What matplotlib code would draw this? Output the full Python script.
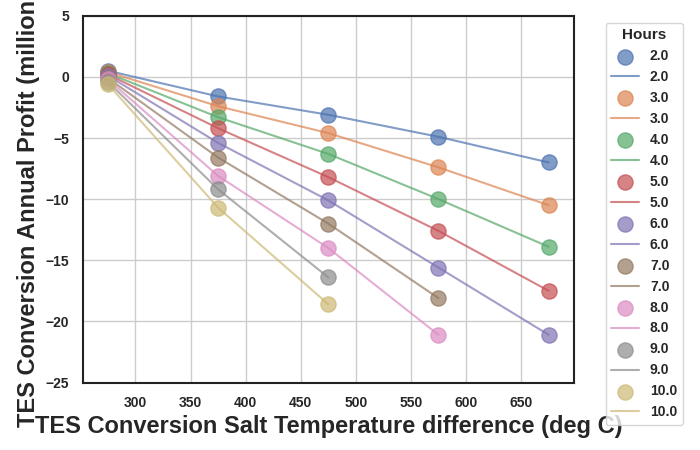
import matplotlib
matplotlib.use("Agg")
import matplotlib.pyplot as plt
import seaborn as sns

sns.set_theme(style="whitegrid")
plt.rcParams['font.family'] = ['Liberation Sans', 'DejaVu Sans']

temps = [275, 375, 475, 575, 675]
hours = [2.0, 3.0, 4.0, 5.0, 6.0, 7.0, 8.0, 9.0, 10.0]
profits = {
    2.0: [0.5, -1.6, -3.1, -4.9, -7.0],
    3.0: [0.4, -2.4, -4.6, -7.4, -10.5],
    4.0: [0.3, -3.3, -6.3, -10.0, -13.9],
    5.0: [0.2, -4.2, -8.2, -12.6, -17.5],
    6.0: [0.1, -5.4, -10.1, -15.6, -21.1],
    7.0: [-0.1, -6.6, -12.0, -18.1],
    8.0: [-0.2, -8.1, -14.0, -21.1],
    9.0: [-0.4, -9.2, -16.4],
    10.0: [-0.6, -10.7, -18.6],
}

colors = sns.color_palette("deep", 10)
fig, ax = plt.subplots(figsize=(7, 4.5), dpi=100)
for i, h in enumerate(hours):
    y = profits[h]
    x = temps[:len(y)]
    ax.scatter(x, y, s=120, color=colors[i], edgecolor=colors[i], alpha=0.7, label=str(h), zorder=3)
    ax.plot(x, y, color=colors[i], alpha=0.7, label=str(h))

ax.set_ylim(-25, 5)
ax.set_xlim(252, 698)
for s in ax.spines.values():
    s.set_color("#222222")
    s.set_linewidth(1.5)
for lab in ax.get_xticklabels() + ax.get_yticklabels():
    lab.set_fontweight("bold")
ax.tick_params(labelsize=10)
ax.set_xlabel("TES Conversion Salt Temperature difference (deg C)", fontsize=17, fontweight="bold")
ax.set_ylabel("TES Conversion Annual Profit (million $)", fontsize=17, fontweight="bold")
leg = ax.legend(title="Hours", bbox_to_anchor=(1.05, 1.0), loc="upper left",
                prop={"weight": "bold", "size": 10}, title_fontproperties={"weight": "bold", "size": 11})
fig.subplots_adjust(left=0.118, right=0.82, top=0.965, bottom=0.15)
fig.savefig("out.png")
